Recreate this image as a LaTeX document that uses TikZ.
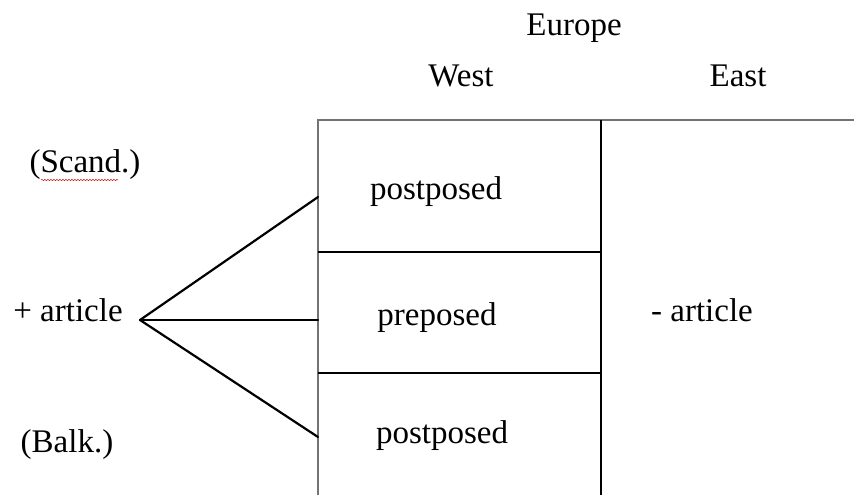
\documentclass[tikz,border=0pt]{standalone}
\usepackage{fontspec}
\setmainfont{Liberation Serif}
\usetikzlibrary{positioning, decorations.pathmorphing}
\tikzset{
x=1pt, y=-1pt, % one unit is one pixel of the page, y runs down
label/.style={inner sep=0pt, font=\fontsize{33}{39}\selectfont}, % every text of the table
frame/.style={draw=black!55, line width=1.2pt}, % outer border of the table
grid/.style={draw=black, line width=1.6pt}, % inner lines of the table
branch/.style={draw=black, line width=2.2pt, line cap=round}, % lines from + article
}

\begin{document}
\begin{tikzpicture}
    \useasboundingbox (0,0) rectangle (854,495);
    % headings
    \node[label] (europe) at (574,28) {Europe};
    \node[label] (west) at (461,76) {West};
    \node[label] (east) at (738,76) {East};
    % table lines
    \draw[frame] (318,495) -- (318,120) -- (854,120);
    \draw[grid] (601,120) -- (601,495);
    \draw[grid] (318,252) -- (601,252);
    \draw[grid] (318,373) -- (601,373);
    % cells
    \node[label] (post1) at (436,192) {postposed};
    \node[label] (pre) at (437,318) {preposed};
    \node[label] (post2) at (442,436) {postposed};
    \node[label] (noart) at (702,310) {- article};
    % left side
    \node[label] (scand) at (85,165) {(Scand.)};
    \node[label] (plusart) at (68,310) {+ article};
    \node[label] (balk) at (67,445) {(Balk.)};
    \draw[red!80!black, line width=0.5pt, decorate, decoration={snake, amplitude=0.6pt, segment length=3pt}]
        (41,180) -- (118,180);
    \coordinate (root) at (140,320);
    \coordinate (t1) at (318,197);
    \coordinate (t2) at (318,320);
    \coordinate (t3) at (318,437);
    \draw[branch] (root) -- (t1);
    \draw[branch] (root) -- (t2);
    \draw[branch] (root) -- (t3);
\end{tikzpicture}
\end{document}
